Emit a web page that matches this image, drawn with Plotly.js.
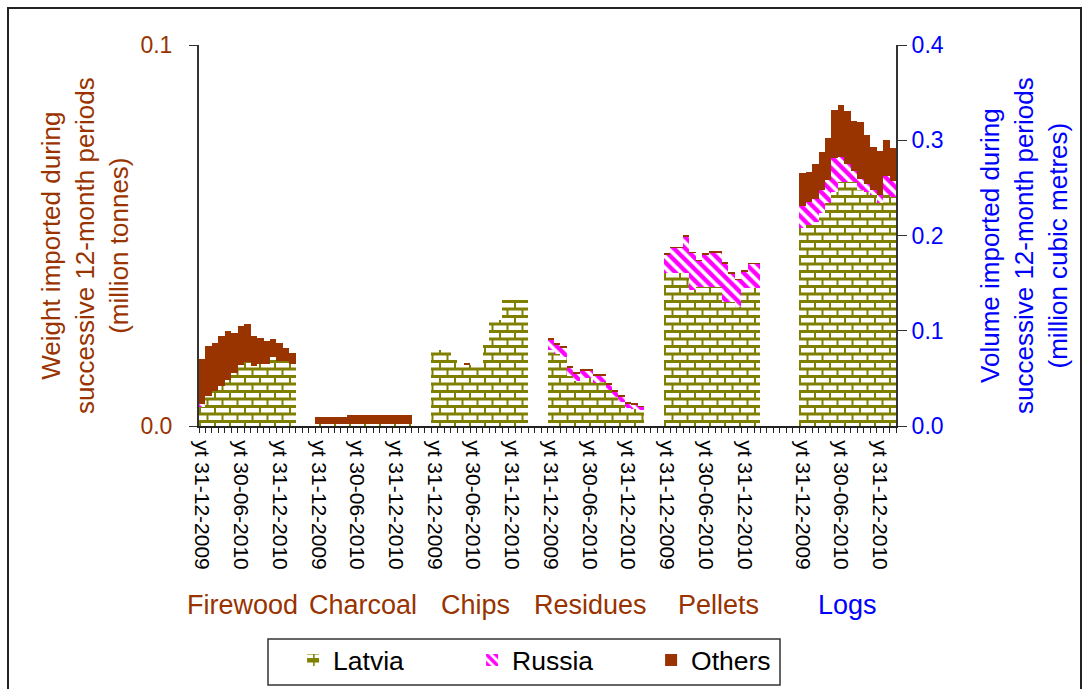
<!DOCTYPE html>
<html>
<head>
<meta charset="utf-8">
<script src="https://cdn.plot.ly/plotly-3.0.1.min.js"></script>
<style>
  body { margin: 0; background: #fff; }
  #chart { position: absolute; left: 0; top: 0; width: 1084px; height: 689px; }
  #frame { position: absolute; left: 7px; top: 7px; width: 1075px; height: 700px;
           border: 2px solid #222; box-sizing: border-box; pointer-events: none; }
</style>
</head>
<body>
<div id="chart"></div>
<div id="frame"></div>
<script>
// 12-month periods ending at each month
const months = ['2009-12', '2010-01', '2010-02', '2010-03', '2010-04', '2010-05', '2010-06',
  '2010-07', '2010-08', '2010-09', '2010-10', '2010-11', '2010-12', '2011-01', '2011-02'];
const monthLabels = { '2009-12': 'yt 31-12-2009', '2010-06': 'yt 30-06-2010', '2010-12': 'yt 31-12-2010' };
const products = ['Firewood', 'Charcoal', 'Chips', 'Residues', 'Pellets', 'Logs'];
const emptySlots = [3, 3, 3, 3, 6, 0];   // blank categories after each product

// million tonnes (left axis)
const firewoodLatvia = [0.0051, 0.0079, 0.0092, 0.0106, 0.0121, 0.0139, 0.0160, 0.0169, 0.0157, 0.0162, 0.0162, 0.0180, 0.0171, 0.0171, 0.0164];
const firewoodRussia = [0.0007, 0, 0, 0, 0, 0, 0, 0, 0, 0, 0, 0, 0, 0, 0];
const firewoodOthers = [0.0118, 0.0131, 0.0126, 0.0130, 0.0128, 0.0105, 0.0102, 0.0099, 0.0079, 0.0069, 0.0061, 0.0048, 0.0047, 0.0034, 0.0028];

const charcoalLatvia = [0.0004, 0.0004, 0.0004, 0.0004, 0.0004, 0.0004, 0.0004, 0.0004, 0.0004, 0.0004, 0.0004, 0.0004, 0.0004, 0.0004, 0.0004];
const charcoalRussia = [0, 0, 0, 0, 0, 0, 0, 0, 0, 0, 0, 0, 0, 0, 0];
const charcoalOthers = [0.0019, 0.0019, 0.0019, 0.0019, 0.0019, 0.0024, 0.0024, 0.0024, 0.0024, 0.0024, 0.0024, 0.0024, 0.0024, 0.0024, 0.0024];

const chipsLatvia = [0.0199, 0.0199, 0.0197, 0.0175, 0.0161, 0.0161, 0.0161, 0.0161, 0.0218, 0.0279, 0.0279, 0.0332, 0.0330, 0.0330, 0.0332];
const chipsRussia = [0, 0, 0, 0, 0, 0, 0, 0, 0, 0, 0, 0, 0, 0, 0];
const chipsOthers = [0, 0, 0, 0, 0, 0.0004, 0, 0, 0, 0, 0, 0, 0, 0, 0];

const residuesLatvia = [0.0199, 0.0188, 0.0180, 0.0130, 0.0117, 0.0125, 0.0127, 0.0114, 0.0115, 0.0094, 0.0076, 0.0064, 0.0048, 0.0045, 0.0043];
const residuesRussia = [0.0027, 0.0025, 0.0025, 0.0022, 0.0020, 0.0020, 0.0018, 0.0017, 0.0016, 0.0014, 0.0013, 0.0012, 0.0010, 0.0010, 0.0008];
const residuesOthers = [0.0005, 0.0005, 0.0005, 0.0005, 0.0005, 0.0005, 0.0005, 0.0005, 0.0005, 0.0005, 0.0005, 0.0005, 0.0005, 0.0005, 0.0001];

const pelletsLatvia = [0.0402, 0.0402, 0.0402, 0.0402, 0.0357, 0.0365, 0.0365, 0.0365, 0.0365, 0.0325, 0.0325, 0.0312, 0.0362, 0.0362, 0.0362];
const pelletsRussia = [0.0048, 0.0064, 0.0064, 0.0095, 0.0096, 0.0067, 0.0085, 0.0090, 0.0090, 0.0101, 0.0075, 0.0070, 0.0043, 0.0062, 0.0062];
const pelletsOthers = [0.0004, 0.0004, 0.0004, 0.0004, 0.0004, 0.0004, 0.0004, 0.0004, 0.0004, 0.0004, 0.0004, 0.0004, 0.0004, 0.0004, 0.0004];

// million cubic metres (right axis)
const logsLatvia = [0.208, 0.211, 0.214, 0.224, 0.234, 0.246, 0.256, 0.256, 0.256, 0.248, 0.246, 0.243, 0.234, 0.243, 0.240];
const logsRussia = [0.023, 0.024, 0.024, 0.024, 0.024, 0.035, 0.026, 0.019, 0.012, 0.011, 0.008, 0.005, 0.008, 0.019, 0.017];
const logsOthers = [0.035, 0.032, 0.037, 0.040, 0.044, 0.051, 0.055, 0.056, 0.052, 0.060, 0.052, 0.045, 0.047, 0.038, 0.035];

const BROWN = '#993300';
const BLUE = '#0000ff';
const FONT = 'Liberation Sans, Arial, sans-serif';

// category axis: product/month slots plus empty slots between products
const cats = [];
const tickText = [];
products.forEach((p, i) => {
  months.forEach(m => { cats.push(p + ' ' + m); tickText.push(monthLabels[m] || ''); });
  for (let k = 0; k < emptySlots[i]; k++) { cats.push(p + ' blank' + k); tickText.push(''); }
});

const catsFor = p => months.map(m => p + ' ' + m);
const weightProducts = products.slice(0, 5);
const weightX = weightProducts.flatMap(catsFor);
const logsX = catsFor('Logs');

// brick tile, 15x15
const brick = 'M0,0H15V3H0Z M0,3H2V7.5H0Z M0,7.5H15V10.5H0Z M7.5,10.5H9.5V15H7.5Z';
const styles = {
  Latvia: { color: '#808000', pattern: { path: brick, size: 15, fgcolor: '#808000', bgcolor: '#ffffff', fillmode: 'replace' } },
  Russia: { color: '#ff00ff', pattern: { shape: '\\', size: 8, solidity: 0.55, fgcolor: '#ff00ff', bgcolor: '#ffffff', fillmode: 'replace' } },
  Others: { color: BROWN }
};

const weightSeries = {
  Latvia: [firewoodLatvia, charcoalLatvia, chipsLatvia, residuesLatvia, pelletsLatvia],
  Russia: [firewoodRussia, charcoalRussia, chipsRussia, residuesRussia, pelletsRussia],
  Others: [firewoodOthers, charcoalOthers, chipsOthers, residuesOthers, pelletsOthers]
};
const logsSeries = { Latvia: logsLatvia, Russia: logsRussia, Others: logsOthers };

const traces = [];
['Latvia', 'Russia', 'Others'].forEach(name => {
  traces.push({
    type: 'bar', name: name, legendgroup: name,
    x: weightX, y: weightSeries[name].flat(),
    marker: Object.assign({ line: { width: 0 } }, styles[name]),
    yaxis: 'y'
  });
});
['Latvia', 'Russia', 'Others'].forEach(name => {
  traces.push({
    type: 'bar', name: name, legendgroup: name, showlegend: false,
    x: logsX, y: logsSeries[name],
    marker: Object.assign({ line: { width: 0 } }, styles[name]),
    yaxis: 'y2'
  });
});

const labelShift = [-5, -1, -4, -5, 6, 0];
const annotations = products.map((p, i) => ({
  xref: 'x', yref: 'paper', x: p + ' 2010-07', y: -0.47,
  xshift: labelShift[i],
  text: p, showarrow: false, xanchor: 'center', yanchor: 'middle',
  font: { family: FONT, size: 27, color: p === 'Logs' ? BLUE : BROWN }
}));
annotations.push({
  xref: 'paper', yref: 'paper', x: -0.1636, y: 0.475, textangle: -90,
  text: 'Weight imported during<br>successive 12-month periods<br>(million tonnes)',
  showarrow: false, xanchor: 'center', yanchor: 'middle',
  font: { family: FONT, size: 26, color: BROWN }
});
annotations.push({
  xref: 'paper', yref: 'paper', x: 1.1836, y: 0.475, textangle: -90,
  text: 'Volume imported during<br>successive 12-month periods<br>(million cubic metres)',
  showarrow: false, xanchor: 'center', yanchor: 'middle',
  font: { family: FONT, size: 26, color: BLUE }
});

Plotly.newPlot('chart', traces, {
  width: 1084, height: 689,
  margin: { l: 199, r: 188, t: 45, b: 263, autoexpand: false },
  paper_bgcolor: 'rgba(0,0,0,0)', plot_bgcolor: '#ffffff',
  font: { family: FONT, color: '#000' },
  barmode: 'stack', bargap: 0,
  showlegend: true,
  legend: {
    orientation: 'h', traceorder: 'normal',
    x: 0.135, xanchor: 'left', y: -0.552, yanchor: 'top',
    borderwidth: 0, bgcolor: 'rgba(0,0,0,0)',
    entrywidth: 134, entrywidthmode: 'pixels',
    font: { family: FONT, size: 26.5, color: '#000' }
  },
  // legend frame
  shapes: [{
    type: 'rect', xref: 'paper', yref: 'paper',
    x0: 0.099, x1: 0.8336, y0: -0.68, y1: -0.559,
    line: { color: '#333', width: 1.5 }, fillcolor: 'rgba(0,0,0,0)', layer: 'below'
  }],
  xaxis: {
    type: 'category', categoryorder: 'array', categoryarray: cats,
    range: [-0.5, cats.length - 0.5],
    tickmode: 'array', tickvals: cats, ticktext: tickText,
    tickson: 'boundaries', ticks: 'outside', ticklen: 5, tickcolor: '#222',
    tickangle: 90, ticklabelstandoff: 8,
    tickfont: { family: FONT, size: 21, color: '#000' },
    showline: true, linecolor: '#222', linewidth: 2, showgrid: false
  },
  yaxis: {
    range: [0, 0.1], tickvals: [0, 0.1], tickformat: '.1f',
    ticks: 'outside', ticklen: 8, tickcolor: '#333', ticklabelstandoff: 12,
    tickfont: { family: FONT, size: 23, color: BROWN },
    showline: true, linecolor: '#333', linewidth: 2,
    showgrid: true, gridcolor: '#999', gridwidth: 1.5, zeroline: false
  },
  yaxis2: {
    overlaying: 'y', side: 'right',
    range: [0, 0.4], dtick: 0.1, tickformat: '.1f',
    ticks: 'outside', ticklen: 9, tickcolor: '#333',
    tickfont: { family: FONT, size: 23, color: BLUE },
    showline: true, linecolor: '#333', linewidth: 2,
    showgrid: false, zeroline: false
  },
  annotations: annotations
}, { displayModeBar: false, staticPlot: true });
</script>
</body>
</html>
